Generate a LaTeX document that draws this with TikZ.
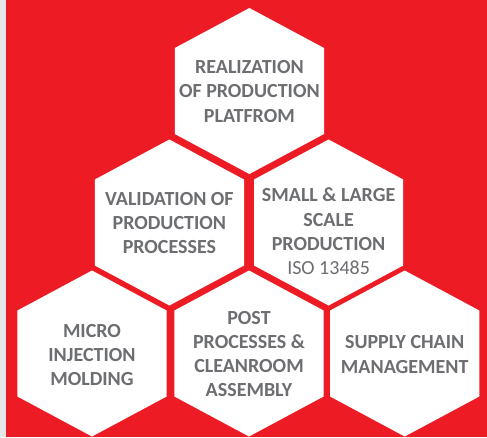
\documentclass[tikz,border=0pt]{standalone}
\usepackage{fontspec}
\setmainfont{Carlito}
\definecolor{bgred}{HTML}{ED1C24}
\definecolor{stripgray}{HTML}{E6E7E9}
\definecolor{txtgray}{HTML}{6D6E71}
\tikzset{
  hexfill/.style={fill=white, draw=none},
  hexlabel/.style={align=center, text=txtgray, font=\fontsize{20}{24.3}\selectfont\bfseries, inner sep=0pt},
}
\newcommand\hexshape[2]{% center x, center y (pixels, y downward)
  \fill[white] (#1-74.6,#2-43) -- (#1,#2-83) -- (#1+74.6,#2-43) -- (#1+74.6,#2+43) -- (#1,#2+83) -- (#1-74.6,#2+43) -- cycle;}
\begin{document}
\begin{tikzpicture}[x=1pt,y=-1pt]
\useasboundingbox (0,0) rectangle (487,437);
\fill[stripgray] (0,0) rectangle (5.5,437);
\fill[bgred] (5.5,0) rectangle (487,437);
\hexshape{249.4}{91}
\hexshape{169.4}{222.5}
\hexshape{328.6}{222.5}
\hexshape{92}{353.5}
\hexshape{249}{353.5}
\hexshape{404.7}{353.5}
\node[hexlabel] (realization) at (249.4,91.5) {REALIZATION\\OF PRODUCTION\\PLATFROM};
\node[hexlabel] (validation) at (169.4,223) {VALIDATION OF\\PRODUCTION\\PROCESSES};
\node[hexlabel] (scale) at (328.6,231.5) {SMALL \& LARGE\\SCALE\\PRODUCTION\\{\mdseries ISO 13485}};
\node[hexlabel] (micro) at (92,355) {MICRO\\INJECTION\\MOLDING};
\node[hexlabel] (post) at (249,354) {POST\\PROCESSES \&\\CLEANROOM\\ASSEMBLY};
\node[hexlabel] (supply) at (404.7,354.5) {SUPPLY CHAIN\\MANAGEMENT};
\end{tikzpicture}
\end{document}
